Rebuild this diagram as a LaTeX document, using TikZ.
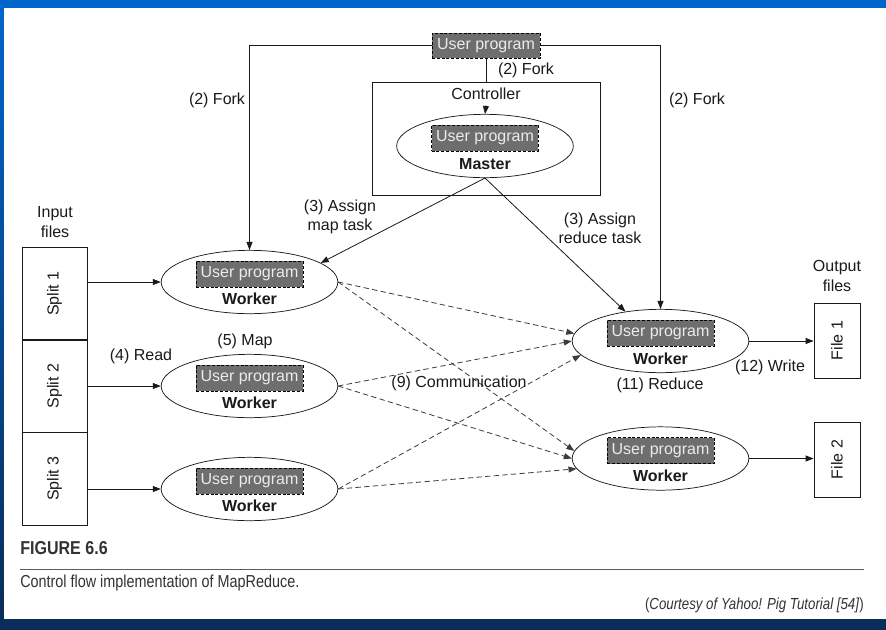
\documentclass[tikz,border=0pt]{standalone}
\usepackage{fontspec}
\setmainfont{Liberation Sans}
\newfontfamily\capfont[FakeStretch=0.83]{Liberation Sans}
\newfontfamily\figfont[FakeStretch=0.86]{Liberation Sans}
\usetikzlibrary{arrows.meta,calc,shapes.geometric}

\definecolor{slideblue}{HTML}{0066CC}
\definecolor{slidenavy}{HTML}{0A2C58}
\definecolor{progfill}{HTML}{6E6E6E}
\definecolor{ink}{HTML}{1A1A1A}
\definecolor{captink}{HTML}{333333}

\begin{document}
\begin{tikzpicture}[x=0.75pt,y=-0.75pt,
  every node/.style={text=ink, inner sep=0pt, font=\fontsize{12}{14.4}\selectfont},
  bold/.style={font=\fontsize{12}{14.4}\selectfont\bfseries},
  link/.style={draw=ink, line width=0.6pt},
  tip/.style={-{Triangle[length=6pt,width=4.5pt]}},
  comm/.style={draw=ink!85, line width=0.6pt, tip, dash pattern=on 4pt off 2.5pt},
  prog/.style={draw=black, fill=progfill, text=white!92!black,
    dash pattern=on 2.2pt off 1.4pt, line width=0.5pt,
    minimum width=80pt, minimum height=19.5pt},
  proc/.style={draw=ink, ellipse, line width=0.55pt,
    minimum width=132.5pt, minimum height=47.5pt},
  split/.style={draw=ink, line width=0.6pt, minimum width=48.75pt, minimum height=69.75pt},
  outfile/.style={draw=ink, line width=0.6pt, minimum width=34.5pt, minimum height=56.25pt},
  lbl/.style={align=center, font=\fontsize{12}{14.4}\selectfont}
]
% slide frame
\useasboundingbox (0,0) rectangle (886,629);
\shade[top color=slideblue, bottom color=slidenavy] (0,0) rectangle (886,629);
\fill[white] (4,8) rectangle (886,619);

% controller with the master
\node[draw=ink, line width=0.6pt, minimum width=171pt, minimum height=84.75pt] (ctrl) at (486,138.5) {};
\node[lbl] (ctrllbl) at (486,94) {Controller};
\node[proc] (master) at (485,146) {};
\node[prog] (masterprog) at (485,138) {User program};
\node[bold] (masterlbl) at (485,164) {Master};

% user program at the top
\node[prog, minimum height=18.75pt, minimum width=81pt] (up) at (486,45.5) {User program};

% map workers
\node[proc] (w1) at (249.5,282) {};
\node[proc] (w2) at (249.5,386) {};
\node[proc] (w3) at (249.5,489) {};
\foreach \w in {w1,w2,w3}{
  \node[prog] (\w prog) at ([yshift=6pt]\w.center) {User program};
  \node[bold] (\w lbl) at ([yshift=-12.5pt]\w.center) {Worker};
}

% reduce workers
\node[proc] (r1) at (660.5,341) {};
\node[proc] (r2) at (660.5,458.5) {};
\foreach \r in {r1,r2}{
  \node[prog] (\r prog) at ([yshift=6pt]\r.center) {User program};
  \node[bold] (\r lbl) at ([yshift=-13pt]\r.center) {Worker};
}

% input splits
\node[split] (s1) at (54.5,293.5) {};
\node[split] (s2) at (54.5,386) {};
\node[split] (s3) at (54.5,478.5) {};
\node[rotate=90] (s1lbl) at (s1) {Split 1};
\node[rotate=90] (s2lbl) at (s2) {Split 2};
\node[rotate=90] (s3lbl) at (s3) {Split 3};
\node[lbl] (inlbl) at (55,222) {Input\\files};

% output files
\node[outfile] (f1) at (837,340.5) {};
\node[outfile] (f2) at (837,459.5) {};
\node[rotate=90] (f1lbl) at (f1) {File 1};
\node[rotate=90] (f2lbl) at (f2) {File 2};
\node[lbl] (outlbl) at (837,276) {Output\\files};

% fork
\draw[link,tip] (up.west) -| (w1.north);
\draw[link,tip] (up.east) -| (r1.north);
\draw[link] (up.south) -- (ctrl.north);
\draw[link,tip] ([yshift=-4pt]ctrllbl.south) -- (master.north);
\node[lbl] (forkl) at (217,100) {(2) Fork};
\node[lbl] (forkm) at (526,70) {(2) Fork};
\node[lbl] (forkr) at (697,100) {(2) Fork};

% task assignment
\draw[link,tip] (master.south) -- (w1.15);
\draw[link,tip] (master.south) -- (r1.140);
\node[lbl] (mapassign) at (340,217) {(3) Assign\\map task};
\node[lbl] (redassign) at (600,228) {(3) Assign\\reduce task};

% reading the splits
\draw[link,tip] (s1.east |- w1.west) -- (w1.west);
\draw[link,tip] (s2.east |- w2.west) -- (w2.west);
\draw[link,tip] (s3.east |- w3.west) -- (w3.west);
\node[lbl] (readlbl) at (141,356) {(4) Read};
\node[lbl] (maplbl) at (245,341) {(5) Map};

% shuffle between map and reduce workers
\draw[comm] (w1.east) -- (r1.175);
\draw[comm] (w1.east) -- (r2.175);
\draw[comm] (w2.east) -- (r1.180);
\draw[comm] (w2.east) -- (r2.180);
\draw[comm] (w3.east) -- (r1.190);
\draw[comm] (w3.east) -- (r2.187);
\node[lbl] (commlbl) at (459,383) {(9) Communication};

% reduce and write
\node[lbl] (redlbl) at (660,385) {(11) Reduce};
\draw[link,tip] (r1.east) -- (f1.west |- r1.east);
\draw[link,tip] (r2.east) -- (f2.west |- r2.east);
\node[lbl] (writelbl) at (770,367) {(12) Write};

% caption
\node[anchor=west, text=captink, font=\figfont\fontsize{14}{16}\selectfont\bfseries] (figno) at (20,548) {FIGURE 6.6};
\coordinate (rulel) at (20,569);
\coordinate (ruler) at (864,569);
\draw[captink!80, line width=0.7pt] (rulel) -- (ruler);
\node[anchor=west, text=captink, font=\capfont\fontsize{13}{15}\selectfont] (capt) at (20,583) {Control flow implementation of MapReduce.};
\node[anchor=east, text=captink, font=\capfont\fontsize{12}{14}\selectfont] (credit) at (864,605) {(\textit{Courtesy of Yahoo! Pig Tutorial [54]})};
\end{tikzpicture}
\end{document}
